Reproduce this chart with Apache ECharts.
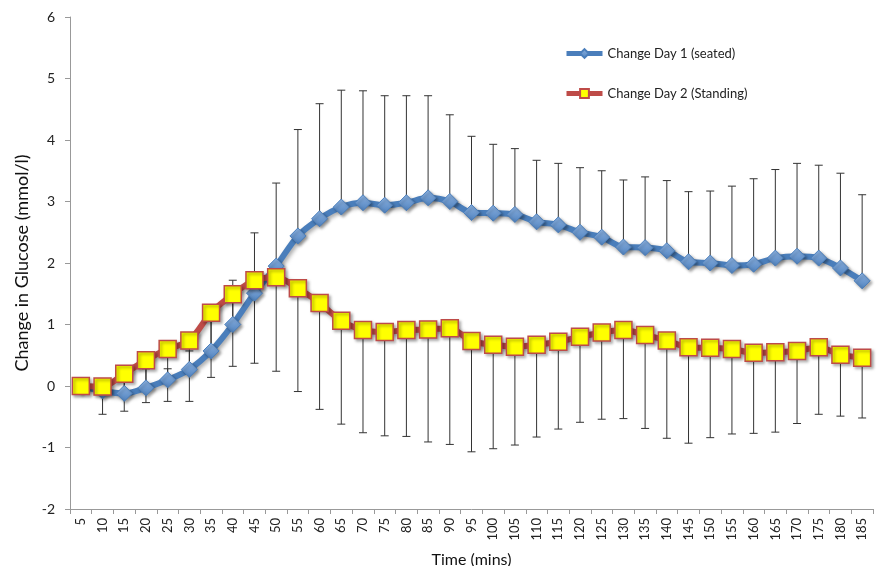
<!DOCTYPE html>
<html>
<head>
<meta charset="utf-8">
<script src="https://cdn.jsdelivr.net/npm/echarts@6/dist/echarts.min.js"></script>
<style>html,body{margin:0;padding:0;background:#fff}#c{width:880px;height:566px}</style>
</head>
<body>
<div id="c"></div>
<script>
var times = ['5','10','15','20','25','30','35','40','45','50','55','60','65','70','75','80','85','90','95','100','105','110','115','120','125','130','135','140','145','150','155','160','165','170','175','180','185'];
var day1 = [0.0,-0.08,-0.12,-0.03,0.1,0.27,0.57,1.0,1.51,1.95,2.44,2.72,2.91,2.98,2.94,2.98,3.06,3.0,2.82,2.81,2.79,2.67,2.62,2.5,2.42,2.26,2.25,2.2,2.02,2.0,1.96,1.98,2.08,2.11,2.08,1.92,1.71];
var day1Upper = [0.0,0.0,0.1,0.28,0.28,0.57,1.05,1.72,2.49,3.3,4.17,4.59,4.81,4.8,4.72,4.72,4.72,4.41,4.06,3.93,3.86,3.67,3.62,3.55,3.5,3.35,3.4,3.34,3.16,3.17,3.25,3.37,3.52,3.62,3.59,3.46,3.11];
var day2 = [0.0,-0.01,0.2,0.42,0.6,0.74,1.19,1.49,1.72,1.77,1.59,1.35,1.06,0.91,0.88,0.91,0.92,0.94,0.73,0.67,0.64,0.67,0.72,0.8,0.87,0.91,0.83,0.74,0.63,0.62,0.6,0.54,0.55,0.57,0.63,0.51,0.46];
var day2Lower = [0.0,-0.46,-0.41,-0.27,-0.25,-0.25,0.14,0.32,0.37,0.24,-0.09,-0.38,-0.62,-0.76,-0.81,-0.82,-0.91,-0.95,-1.07,-1.02,-0.96,-0.83,-0.7,-0.59,-0.54,-0.53,-0.69,-0.85,-0.93,-0.84,-0.78,-0.77,-0.75,-0.61,-0.46,-0.49,-0.52];
var yTicks = [-2,-1,0,1,2,3,4,5,6];

var FONT = 'Lato, "Open Sans", sans-serif';

function errData(vals, ends) {
  return vals.map(function (v, i) { return [i, v, ends[i]]; });
}
function errRender(params, api) {
  var x = api.value(0);
  var p1 = api.coord([x, api.value(1)]);
  var p2 = api.coord([x, api.value(2)]);
  var cap = 4;
  var st = { stroke: '#333', lineWidth: 1 };
  return {
    type: 'group',
    children: [
      { type: 'line', shape: { x1: p1[0], y1: p1[1], x2: p2[0], y2: p2[1] }, style: st },
      { type: 'line', shape: { x1: p2[0] - cap, y1: p2[1], x2: p2[0] + cap, y2: p2[1] }, style: st }
    ]
  };
}

var chart = echarts.init(document.getElementById('c'));
chart.setOption({
  animation: false,
  backgroundColor: '#fff',
  grid: { left: 70, right: 7, top: 17, bottom: 57, containLabel: false, outerBoundsMode: 'none' },
  legend: {
    orient: 'vertical',
    left: 559,
    top: 42,
    itemGap: 27,
    itemWidth: 36,
    itemHeight: 11,
    lineStyle: { width: 5 },
    textStyle: { fontFamily: FONT, fontSize: 13, color: '#222' },
    data: ['Change Day 1 (seated)', 'Change Day 2 (Standing)']
  },
  xAxis: {
    type: 'category',
    data: times,
    boundaryGap: true,
    name: 'Time (mins)',
    nameLocation: 'middle',
    nameGap: 43,
    nameTextStyle: { fontFamily: FONT, fontSize: 16, color: '#111' },
    axisLine: { onZero: false, lineStyle: { color: '#999' } },
    axisTick: { show: true, alignWithLabel: false, length: 5, lineStyle: { color: '#999' } },
    axisLabel: { rotate: 90, interval: 0, fontFamily: FONT, fontSize: 13, color: '#222', margin: 9 },
    splitLine: { show: false }
  },
  yAxis: {
    type: 'value',
    min: -2, max: 6, interval: 1,
    name: 'Change in Glucose (mmol/l)',
    nameLocation: 'middle',
    nameGap: 34,
    nameRotate: 90,
    nameTextStyle: { fontFamily: FONT, fontSize: 18, color: '#111' },
    axisLine: { show: true, lineStyle: { color: '#999' } },
    axisTick: { show: true, length: 5, lineStyle: { color: '#999' } },
    axisLabel: {
      fontFamily: FONT, fontSize: 14, color: '#222', margin: 15,
      formatter: function (v) { return yTicks.indexOf(v) >= 0 ? String(v) : ''; }
    },
    splitLine: { show: false }
  },
  series: [
    {
      type: 'custom', name: 'err1', renderItem: errRender, data: errData(day1, day1Upper),
      encode: { x: 0, y: [1, 2] }, z: 1, silent: true
    },
    {
      type: 'custom', name: 'err2', renderItem: errRender, data: errData(day2, day2Lower),
      encode: { x: 0, y: [1, 2] }, z: 1, silent: true
    },
    {
      name: 'Change Day 1 (seated)',
      type: 'line',
      data: day1,
      smooth: 0.3,
      z: 3,
      symbol: 'diamond',
      symbolSize: 16,
      lineStyle: { color: '#4A7EBB', width: 6, shadowColor: 'rgba(0,0,0,0.35)', shadowBlur: 4, shadowOffsetX: 2, shadowOffsetY: 2 },
      itemStyle: {
        color: new echarts.graphic.LinearGradient(0, 0, 0, 1, [
          { offset: 0, color: '#8DB3E2' }, { offset: 1, color: '#4F81BD' }
        ]),
        borderColor: '#4A7EBB', borderWidth: 1,
        shadowColor: 'rgba(0,0,0,0.35)', shadowBlur: 3, shadowOffsetX: 2, shadowOffsetY: 2
      }
    },
    {
      name: 'Change Day 2 (Standing)',
      type: 'line',
      data: day2,
      smooth: 0.3,
      z: 4,
      symbol: 'rect',
      symbolSize: 17,
      lineStyle: { color: '#BE4B48', width: 6, shadowColor: 'rgba(0,0,0,0.35)', shadowBlur: 4, shadowOffsetX: 2, shadowOffsetY: 2 },
      itemStyle: {
        color: '#FFFF00', borderColor: '#BE4B48', borderWidth: 1.5,
        shadowColor: 'rgba(0,0,0,0.35)', shadowBlur: 3, shadowOffsetX: 2, shadowOffsetY: 2
      }
    }
  ]
});
</script>
</body>
</html>
